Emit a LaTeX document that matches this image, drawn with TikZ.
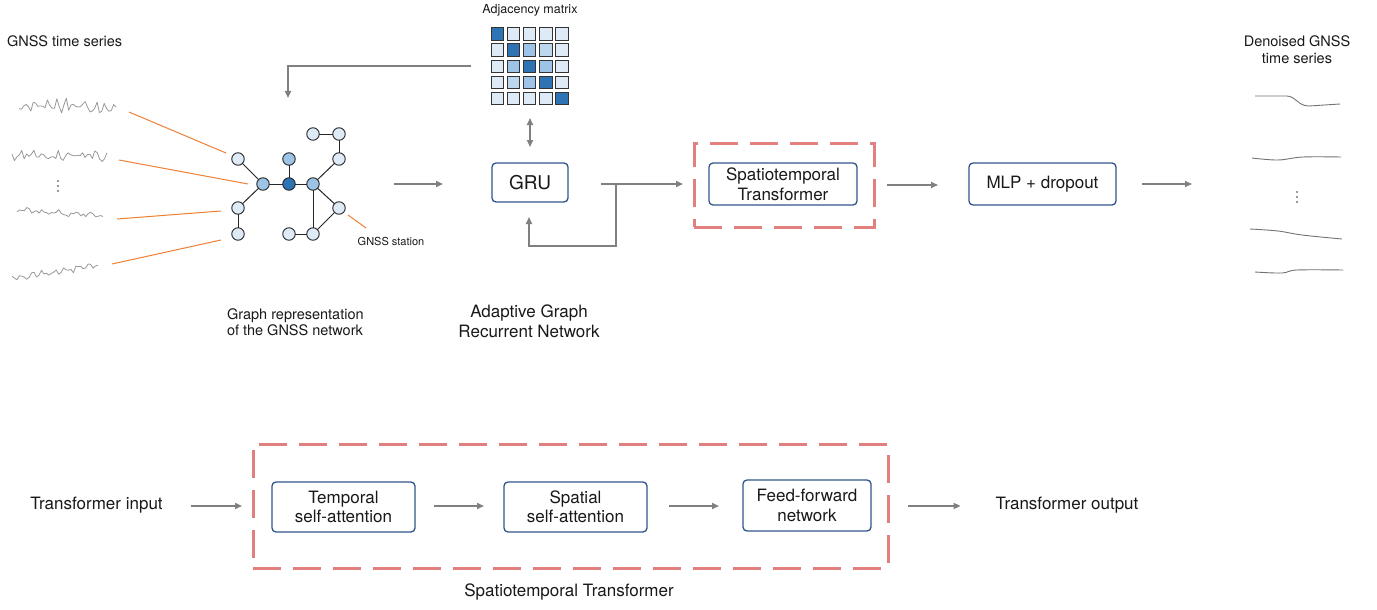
\documentclass[tikz,border=0pt]{standalone}
\usepackage{fontspec}
\setmainfont{TeX Gyre Heros}
\usetikzlibrary{arrows.meta,calc}
\definecolor{boxblue}{RGB}{47,85,140}
\definecolor{arrgray}{RGB}{128,128,128}
\definecolor{dashred}{RGB}{226,128,128}
\definecolor{orangeL}{RGB}{238,128,52}
\definecolor{cD}{RGB}{46,115,180}
\definecolor{cM}{RGB}{157,195,230}
\definecolor{cMM}{RGB}{189,215,238}
\definecolor{cL}{RGB}{222,235,247}
\definecolor{txt}{RGB}{25,25,25}
\begin{document}
\begin{tikzpicture}[x=1pt,y=-1pt,
  every node/.style={text=txt, inner sep=0pt, outer sep=0pt},
  box/.style={draw=boxblue, line width=1.3pt, rounded corners=4pt, fill=white, align=center, font=\fontsize{17}{19.5}\selectfont},
  dbox/.style={draw=dashred, line width=3pt, dash pattern=on 28pt off 12pt},
  arr/.style={draw=arrgray, line width=1.7pt, -{Triangle[length=7pt,width=6pt]}},
  plainline/.style={draw=arrgray, line width=1.7pt},
  gn/.style={circle, draw=black!85, line width=0.9pt, minimum size=12.5pt},
  ge/.style={draw=black!85, line width=1pt},
  ol/.style={draw=orangeL, line width=1pt},
  ts/.style={draw=black!40, line width=0.8pt, line join=round},
  dn/.style={draw=black!55, line width=0.9pt},
  cell/.style={draw=black!80, line width=0.9pt, minimum size=12.4pt},
  big/.style={font=\fontsize{17}{20}\selectfont},
  mid/.style={font=\fontsize{14.5}{16.5}\selectfont},
]
\fill[white] (0,0) rectangle (1377,610);
\useasboundingbox (0,0) rectangle (1377,610);

% ---------- top-left: input time series ----------
\node[mid, anchor=west] (tslab) at (7,41) {GNSS time series};
\pgfmathsetseed{4242}
\draw[ts] plot[domain=19:116, samples=42, variable=\t] (\t, {106 + 3*sin(\t*37) + 5.5*rand});
\draw[ts] plot[domain=12:107, samples=40, variable=\t] (\t, {156 + 2*sin(\t*29) + 4*rand});
\draw[ts] plot[domain=17:103, samples=36, variable=\t] (\t, {210 + 6*((\t-17)/86) + 1.6*sin(\t*23) + 2*rand});
\draw[ts] plot[domain=12:98, samples=36, variable=\t] (\t, {278 - 13*((\t-12)/86) + 1.5*sin(\t*31) + 2.8*rand});
\foreach \yy in {181,186,191} \fill[black!80] (58,\yy) circle (0.9);

% ---------- graph ----------
\node[gn, fill=cL] (a) at (238,159) {};
\node[gn, fill=cM] (b) at (263,184) {};
\node[gn, fill=cD] (c) at (289,184) {};
\node[gn, fill=cM] (d) at (289,159) {};
\node[gn, fill=cM] (e) at (313,184) {};
\node[gn, fill=cL] (f) at (238,208) {};
\node[gn, fill=cL] (g) at (238,234) {};
\node[gn, fill=cL] (h) at (313,134) {};
\node[gn, fill=cL] (i) at (339,134) {};
\node[gn, fill=cL] (j) at (339,159) {};
\node[gn, fill=cL] (k) at (339,208) {};
\node[gn, fill=cL] (l) at (313,234) {};
\node[gn, fill=cL] (m) at (289,234) {};
\foreach \u/\v in {a/b,b/c,c/d,c/e,b/f,f/g,e/j,j/i,i/h,e/k,e/l,k/l,l/m}
  \draw[ge] (\u) -- (\v);

% orange pointer lines
\coordinate (o1s) at (129,112); \coordinate (o1e) at (226,153);
\coordinate (o2s) at (119,160); \coordinate (o2e) at (248,184);
\coordinate (o3s) at (117,219); \coordinate (o3e) at (221,211);
\coordinate (o4s) at (112,264); \coordinate (o4e) at (221,240);
\draw[ol] (o1s) -- (o1e);
\draw[ol] (o2s) -- (o2e);
\draw[ol] (o3s) -- (o3e);
\draw[ol] (o4s) -- (o4e);
\coordinate (sts) at (348,215); \coordinate (ste) at (366,228);
\draw[ol] (sts) -- (ste);
\node[font=\fontsize{11}{13}\selectfont] (stn) at (391,241) {GNSS station};

\node[mid, align=left, anchor=west] (grlab) at (227,322) {Graph representation\\of the GNSS network};

% ---------- adjacency matrix ----------
\node[font=\fontsize{12.5}{14}\selectfont] (adjlab) at (530,10) {Adjacency matrix};
\node[minimum width=78pt, minimum height=78pt] (adj) at (530,67) {};
\foreach \r in {0,...,4}
  \foreach \c in {0,...,4}
    \node[cell, fill=cL] (m\r\c) at ({497.2+16.2*\c},{33.9+16.2*\r}) {};
\foreach \r/\c/\cc in {0/0/cD,1/1/cD,2/2/cD,3/3/cD,4/4/cD,1/2/cM,1/3/cMM,2/1/cM,2/3/cM,3/1/cMM,3/2/cM}
  \node[cell, fill=\cc] at ({497.2+16.2*\c},{33.9+16.2*\r}) {};

% ---------- GRU ----------
\node[box, minimum width=76pt, minimum height=39pt, font=\fontsize{19}{22}\selectfont] (gru) at (530,182.5) {GRU};
\node[big, align=center] (aglab) at (529,321.5) {Adaptive Graph\\Recurrent Network};

% feedback from matrix to graph
\coordinate (fbs) at (471,66);
\coordinate (fbe) at (288,98);
\draw[arr] (fbs) -| (fbe);

% double arrow matrix <-> GRU
\draw[arr, {Triangle[length=7pt,width=6pt]}-{Triangle[length=7pt,width=6pt]}]
  ($(adj.south)+(0,12)$) -- ($(gru.north)+(0,-16)$);

% graph -> GRU
\coordinate (g2s) at (394,184);
\coordinate (g2e) at (443,184);
\draw[arr] (g2s) -- (g2e);

% ---------- spatiotemporal transformer (top) ----------
\node[dbox, minimum width=180pt, minimum height=84pt] (stout) at (784,185) {};
\node[box, minimum width=148pt, minimum height=42pt, font=\fontsize{17}{20}\selectfont] (stin) at (783,184) {Spatiotemporal\\Transformer};

% GRU outputs and recurrence
\coordinate (split) at (616,184);
\draw[plainline] (601,184) -- (split);
\draw[arr] (split) -- (683,184);
\draw[arr] (split) |- ($(gru.south)+(-1,44)$) -- ($(gru.south)+(-1,15)$);

% ---------- MLP ----------
\node[box, minimum width=147pt, minimum height=42pt] (mlp) at (1042.5,184) {MLP + dropout};
\draw[arr] (887,185) -- (938,185);
\draw[arr] ($(mlp.east)+(26,0)$) -- ($(mlp.east)+(76,0)$);

% ---------- denoised output ----------
\node[mid, align=center] (dnlab) at (1297,49.5) {Denoised GNSS\\time series};
\draw[dn] (1255,96) -- (1287,96) .. controls (1296,96.5) and (1298,106) .. (1309,106) -- (1340,104);
\draw[dn] plot[smooth, tension=0.6] coordinates {(1252,158) (1278,160) (1303,157) (1341,157)};
\foreach \yy in {192,197,202} \fill[black!80] (1297,\yy) circle (0.9);
\draw[dn] plot[smooth, tension=0.6] coordinates {(1250,229) (1278,231) (1302,235) (1342,239)};
\draw[dn] plot[smooth, tension=0.6] coordinates {(1255,272) (1282,273) (1297,270) (1343,270)};

% ---------- bottom: spatiotemporal transformer detail ----------
\node[big] (tin) at (96.5,505) {Transformer input};
\node[dbox, minimum width=635pt, minimum height=124pt] (bst) at (570.5,506) {};
\node[box, minimum width=143pt, minimum height=50pt] (temp) at (343.5,507) {Temporal\\self-attention};
\node[box, minimum width=143pt, minimum height=50pt] (spat) at (575.5,507) {Spatial\\self-attention};
\node[box, minimum width=128pt, minimum height=51pt] (ffn) at (807,505.5) {Feed-forward\\network};
\node[big] (tout) at (1067,505) {Transformer output};
\node[big] (bstlab) at (569,592) {Spatiotemporal Transformer};

\draw[arr] ($(tin.east)+(28,1)$) -- ($(bst.west)+(-11,0)$);
\draw[arr] ($(temp.east)+(19,-1)$) -- ($(spat.west)+(-20,-1)$);
\draw[arr] ($(spat.east)+(22,-1)$) -- ($(ffn.west)+(-24,0.5)$);
\draw[arr] ($(bst.east)+(20,0)$) -- ($(tout.west)+(-35,1)$);
\end{tikzpicture}
\end{document}
